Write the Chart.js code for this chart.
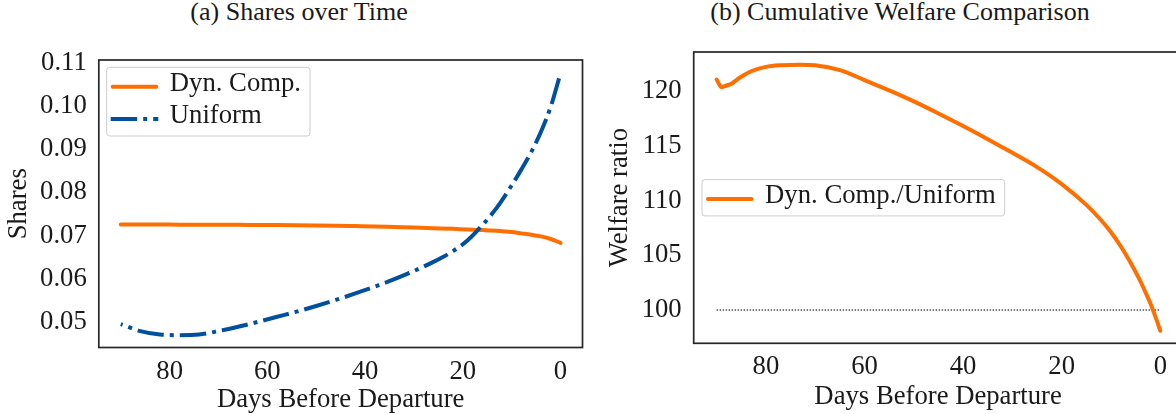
<!DOCTYPE html>
<html>
<head>
<meta charset="utf-8">
<script src="https://cdn.jsdelivr.net/npm/chart.js@4.4.1/dist/chart.umd.min.js"></script>
<style>
    html, body { margin: 0; padding: 0; overflow: hidden; background: #fff; width: 1176px; height: 414px; }
    .caption { position: absolute; top: -1px; font-family: 'Liberation Serif', 'Times New Roman', serif; font-size: 26px; line-height: 26px; color: #1a1a1a; text-align: center; white-space: nowrap; }
    canvas { position: absolute; top: 0; }
</style>
</head>
<body>
    <div class="caption" style="left:49px; width:500px">(a) Shares over Time</div>
    <div class="caption" style="left:650px; width:500px">(b) Cumulative Welfare Comparison</div>
    <canvas id="shares" width="590" height="414" style="left:0"></canvas>
    <canvas id="welfare" width="610" height="414" style="left:590px"></canvas>
<script>
// Panel (a): shares by days before departure
const sharesDays = [90, 86, 82, 78, 74, 70, 66, 62, 58, 54, 50, 46, 42, 38, 34, 30, 26, 22, 19, 16, 13, 10, 8, 6, 4, 2, 0];
const dynCompShares = [0.07254, 0.07254, 0.07253, 0.07252, 0.07251, 0.0725, 0.07248, 0.07245, 0.07242, 0.07238, 0.07233, 0.07226,
    0.07218, 0.0721, 0.07197, 0.07185, 0.0717, 0.07155, 0.0714, 0.0713, 0.0711, 0.0708, 0.0705, 0.0702, 0.0698, 0.0692, 0.0683];
const uniformShares = [0.0495, 0.0479, 0.0471, 0.04695, 0.0471, 0.0479, 0.0489, 0.0500, 0.0512, 0.0524, 0.0537, 0.0551, 0.0566,
    0.0582, 0.0599, 0.0618, 0.0639, 0.0664, 0.0689, 0.0724, 0.0765, 0.0816, 0.0853, 0.0893, 0.0940, 0.0998, 0.1075];
const shareTicks = [0.05, 0.06, 0.07, 0.08, 0.09, 0.10, 0.11];

// Panel (b): cumulative welfare ratio
const welfareDays = [90, 89, 88, 87, 86, 85, 83, 80, 77, 73, 70, 65, 60, 55, 50, 45, 40, 35, 30, 25, 20, 15, 12, 10, 8, 6, 4, 3, 2, 1, 0];
const welfareRatio = [121.05, 120.35, 120.5, 120.65, 121.0, 121.3, 121.8, 122.2, 122.35, 122.4, 122.35, 121.9, 121.0, 120.05,
    119.05, 117.95, 116.8, 115.6, 114.35, 113.05, 111.5, 109.6, 108.2, 107.1, 105.8, 104.3, 102.6, 101.6, 100.6, 99.4, 98.1];
const baselineDays = [90, 0];
const baselineRatio = [100, 100];
const welfareTicks = [100, 105, 110, 115, 120];

const dayTicks = [0, 20, 40, 60, 80];

const FONT = "'Liberation Serif', 'Times New Roman', serif";
const TEXT = '#1a1a1a';
const ORANGE = '#ff6f00';
const BLUE = '#00509d';
const SIZE = 26.7;

const pts = (xs, ys) => xs.map((x, i) => ({ x: x, y: ys[i] }));

// frame round the plot area plus a matplotlib-like legend inside it
const boxLegend = {
    id: 'boxLegend',
    afterDatasetsDraw(chart, args, opts) {
        const { ctx, chartArea: a } = chart;
        ctx.save();
        ctx.strokeStyle = '#262626';
        ctx.lineWidth = 1.7;
        ctx.strokeRect(a.left, a.top, a.right - a.left, a.bottom - a.top);

        const items = chart.data.datasets.filter(d => d.label);
        ctx.font = `${SIZE}px ${FONT}`;
        const textW = Math.max(...items.map(d => ctx.measureText(d.label).width));
        const w = 4 + 47.6 + 11.5 + textW + 9;
        const h = 19.4 + (items.length - 1) * 32.3 + 17;
        const x = a.left + opts.dx;
        const y = opts.dy === 'center' ? (a.top + a.bottom) / 2 + 1.3 - 19.4 : a.top + opts.dy;

        ctx.fillStyle = 'rgba(255,255,255,0.8)';
        ctx.strokeStyle = '#cccccc';
        ctx.lineWidth = 1;
        ctx.beginPath();
        if (ctx.roundRect) ctx.roundRect(x, y, w, h, 3); else ctx.rect(x, y, w, h);
        ctx.fill();
        ctx.stroke();

        items.forEach((d, i) => {
            const cy = y + 19.4 + i * 32.3;
            ctx.beginPath();
            ctx.setLineDash(d.borderDash || []);
            ctx.lineDashOffset = 0;
            ctx.strokeStyle = d.borderColor;
            ctx.lineWidth = d.borderWidth;
            ctx.lineCap = d.borderCapStyle || 'butt';
            const inset = ctx.lineCap === 'round' ? 2 : 0;
            ctx.moveTo(x + 4 + inset, cy);
            ctx.lineTo(x + 51.6 - inset, cy);
            ctx.stroke();
            ctx.setLineDash([]);
            ctx.fillStyle = TEXT;
            ctx.textAlign = 'left';
            ctx.textBaseline = 'middle';
            ctx.fillText(d.label, x + 63.1, cy - 3);
        });
        ctx.restore();
    }
};

function axes(opt) {
    return {
        x: {
            type: 'linear',
            reverse: true,
            min: opt.xMin,
            max: opt.xMax,
            grid: { display: false, drawTicks: false },
            border: { display: false },
            afterBuildTicks: s => { s.ticks = dayTicks.map(v => ({ value: v })); },
            afterFit: s => { s.height = opt.xHeight; },
            ticks: { color: TEXT, padding: opt.xPad, font: { family: FONT, size: SIZE } },
            title: {
                display: true, text: 'Days Before Departure', color: TEXT,
                font: { family: FONT, size: SIZE, lineHeight: 0.9 }, padding: { top: 0, bottom: opt.xTitlePad }
            }
        },
        y: {
            min: opt.yMin,
            max: opt.yMax,
            grid: { display: false, drawTicks: false },
            border: { display: false },
            afterBuildTicks: s => { s.ticks = opt.yTicks.map(v => ({ value: v })); },
            afterFit: s => { s.width = opt.yWidth; },
            ticks: { color: TEXT, padding: 12, font: { family: FONT, size: SIZE }, callback: opt.fmt },
            title: {
                display: true, text: opt.yTitle, color: TEXT,
                font: { family: FONT, size: SIZE }, padding: { top: opt.yTitlePad, bottom: 0 }
            }
        }
    };
}

new Chart(document.getElementById('shares'), {
    type: 'line',
    data: {
        datasets: [
            {
                label: 'Dyn. Comp.',
                data: pts(sharesDays, dynCompShares),
                borderColor: ORANGE, borderWidth: 4, borderCapStyle: 'round',
                pointRadius: 0, cubicInterpolationMode: 'monotone', order: 1
            },
            {
                label: 'Uniform',
                data: pts(sharesDays, uniformShares),
                borderColor: BLUE, borderWidth: 4, borderDash: [26.5, 6, 4, 6], borderDashOffset: 24.5,
                pointRadius: 0, cubicInterpolationMode: 'monotone', order: 0
            }
        ]
    },
    options: {
        responsive: false,
        animation: false,
        layout: { padding: { top: 60, right: 7.5, bottom: 0, left: 0 } },
        plugins: {
            legend: { display: false },
            tooltip: { enabled: false },
            boxLegend: { dx: 7.9, dy: 7.3 }
        },
        scales: axes({
            xMin: -4.5, xMax: 94.5, xHeight: 66.5, xPad: 8.5, xTitlePad: 1.6,
            yMin: 0.0441, yMax: 0.1106, yTicks: shareTicks, yWidth: 98.8,
            yTitle: 'Shares', yTitlePad: 3, fmt: v => v.toFixed(2)
        })
    },
    plugins: [boxLegend]
});

new Chart(document.getElementById('welfare'), {
    type: 'line',
    data: {
        datasets: [
            {
                label: 'Dyn. Comp./Uniform',
                data: pts(welfareDays, welfareRatio),
                borderColor: ORANGE, borderWidth: 4, borderCapStyle: 'round',
                pointRadius: 0, cubicInterpolationMode: 'monotone', order: 0
            },
            {
                data: pts(baselineDays, baselineRatio),
                borderColor: '#000000', borderWidth: 1, borderDash: [1.5, 1.5],
                pointRadius: 0, order: 1
            }
        ]
    },
    options: {
        responsive: false,
        animation: false,
        layout: { padding: { top: 52, right: 17.5, bottom: 0, left: 0 } },
        plugins: {
            legend: { display: false },
            tooltip: { enabled: false },
            boxLegend: { dx: 8.3, dy: 'center' }
        },
        scales: axes({
            xMin: -4.5, xMax: 94.65, xHeight: 70.7, xPad: 7.2, xTitlePad: 5,
            yMin: 96.96, yMax: 123.56, yTicks: welfareTicks, yWidth: 103.7,
            yTitle: 'Welfare ratio', yTitlePad: 14, fmt: v => String(v)
        })
    },
    plugins: [boxLegend]
});
</script>
</body>
</html>
